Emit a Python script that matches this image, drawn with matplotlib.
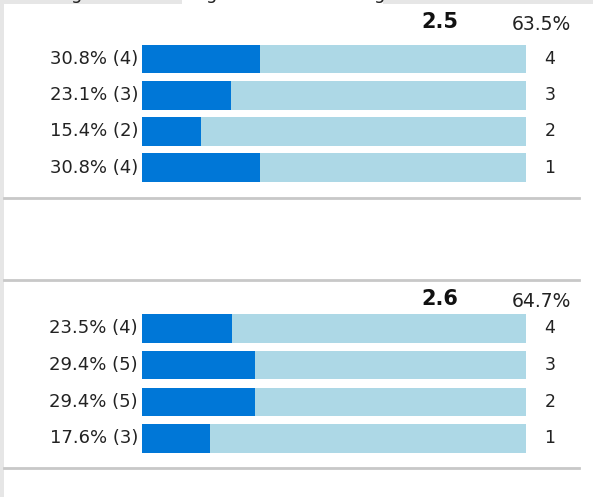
import matplotlib
matplotlib.use("Agg")
import matplotlib.pyplot as plt
from matplotlib.patches import Rectangle
from matplotlib.lines import Line2D

# ---- data ----
ratings = [4, 3, 2, 1]
group1_pct = [30.8, 23.1, 15.4, 30.8]
group1_cnt = [4, 3, 2, 4]
group1_mean = "2.5"
group1_share = "63.5%"

group2_pct = [23.5, 29.4, 29.4, 17.6]
group2_cnt = [4, 5, 5, 3]
group2_mean = "2.6"
group2_share = "64.7%"

DARK = "#0077d7"
LIGHT = "#add8e6"
W, H = 593, 497

plt.rcParams["font.family"] = ["DejaVu Sans"]
fig = plt.figure(figsize=(W / 100, H / 100), dpi=100)
fig.patch.set_facecolor("#e6e6e6")

def fx(px):
    return px / W

def fy(py):
    return 1 - py / H

# white panel
fig.patches.append(Rectangle((fx(4), 0), 1 - fx(4), fy(4), transform=fig.transFigure,
                             facecolor="white", edgecolor="none", zorder=-10))
fig.patches.append(Rectangle((fx(182), fy(4)), fx(383) - fx(182), 1 - fy(4),
                             transform=fig.transFigure, facecolor="white",
                             edgecolor="none", zorder=-10))
# cut-off heading descenders
for gx in [77, 212, 380]:
    fig.text(fx(gx), fy(-1), "g", fontsize=13, ha="center", va="baseline", color="#222222")

def draw_group(top_px, pitch, pct, cnt, mean, share, mean_y, share_y):
    ax_h = pitch * 4
    ax = fig.add_axes([fx(142), fy(top_px + ax_h), fx(526) - fx(142), ax_h / H])
    ax.set_zorder(5)
    ax.patch.set_visible(False)
    ax.set_xlim(0, 100)
    ax.set_ylim(0.5, 4.5)
    ax.axis("off")
    bh = 28.5 / pitch
    ax.barh(ratings, [100] * 4, height=bh, color=LIGHT, edgecolor="none")
    ax.barh(ratings, pct, height=bh, color=DARK, edgecolor="none")
    for r, p, c in zip(ratings, pct, cnt):
        ax.annotate(f"{p}% ({c})", xy=(0, r), xytext=(-4, 0), textcoords="offset pixels",
                    ha="right", va="center", fontsize=13, color="#222222")
        ax.annotate(str(r), xy=(100, r), xytext=(24, 0), textcoords="offset pixels",
                    ha="center", va="center", fontsize=12.5, color="#222222")
    fig.text(fx(440), fy(mean_y), mean, fontsize=15, fontweight="bold",
             ha="center", va="baseline", color="#111111")
    fig.text(fx(541), fy(share_y), share, fontsize=13.5, ha="center", va="baseline",
             color="#222222")

draw_group(41, 36.2, group1_pct, group1_cnt, group1_mean, group1_share, 28, 30)
draw_group(310, 36.7, group2_pct, group2_cnt, group2_mean, group2_share, 305, 307)

for ly in [198, 280, 468]:
    fig.lines.append(Line2D([fx(4), fx(579)], [fy(ly), fy(ly)], transform=fig.transFigure,
                            color="#c8c8c8", linewidth=2.0))

fig.savefig("out.png", dpi=100, facecolor=fig.get_facecolor())
